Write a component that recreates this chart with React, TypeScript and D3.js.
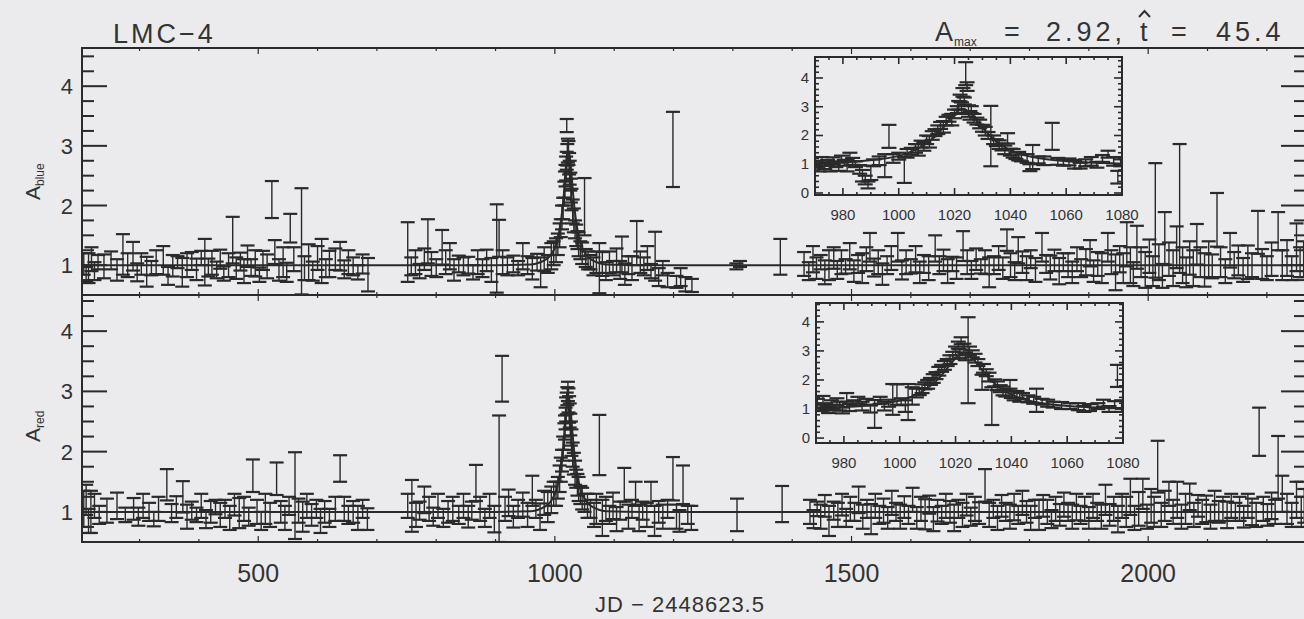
import * as d3 from 'd3';

type Pt = [number, number, number]; // [JD, amplification, error]

// main panel, blue band
const blueMain: Pt[] = [
  [206,1.02,0.18],[210,0.85,0.12],[214,0.95,0.25],[219,1.1,0.2],[224,0.9,0.15],[230,1.05,0.12],[240,0.98,0.2],[252,1.08,0.15],
  [262,0.92,0.18],[272,1.18,0.34],[280,1.0,0.2],[289,1.15,0.24],[296,0.88,0.15],[303,1.02,0.18],[312,0.89,0.25],[320,0.95,0.12],
  [328,1.05,0.2],[340,1.08,0.24],[348,0.82,0.15],[356,0.99,0.18],[364,1.05,0.1],[372,0.88,0.24],[380,1.0,0.2],[388,1.07,0.15],
  [396,0.93,0.18],[404,1.12,0.12],[410,1.05,0.39],[416,0.96,0.15],[422,1.04,0.2],[430,0.92,0.14],[436,1.1,0.16],[442,0.86,0.12],
  [450,1.0,0.2],[457,1.42,0.39],[463,0.95,0.18],[470,1.06,0.15],[476,0.9,0.2],[482,1.15,0.18],[488,0.96,0.14],[495,1.03,0.22],
  [502,0.84,0.12],[508,1.08,0.16],[515,0.98,0.2],[523,2.1,0.31],[528,1.22,0.2],[535,0.92,0.18],[542,1.05,0.25],[548,0.88,0.16],
  [554,1.62,0.24],[560,1.1,0.2],[573,1.4,0.89],[578,0.95,0.2],[585,1.05,0.3],[592,0.9,0.16],[600,1.12,0.2],[607,1.07,0.37],
  [614,0.95,0.15],[620,1.02,0.22],[630,1.1,0.18],[638,1.15,0.24],[645,0.93,0.15],[652,1.05,0.2],[660,0.98,0.15],[668,0.88,0.12],
  [676,1.02,0.16],[685,0.84,0.28],
  [752,1.22,0.5],[758,0.98,0.15],[765,1.05,0.2],[772,0.9,0.12],[780,1.1,0.18],[786,1.4,0.37],[792,1.02,0.2],[800,0.95,0.15],
  [810,1.3,0.29],[816,1.05,0.2],[823,1.15,0.22],[830,0.92,0.18],[838,1.02,0.14],[846,0.98,0.15],[854,1.0,0.14],[862,0.88,0.12],
  [870,1.05,0.2],[878,0.95,0.15],[885,1.08,0.18],[893,0.92,0.2],[902,1.28,0.74],[906,1.45,0.31],[912,1.05,0.2],[920,0.98,0.15],
  [930,1.02,0.14],[938,0.95,0.12],[946,1.15,0.22],[954,1.0,0.15],[962,0.94,0.18],[970,1.05,0.14],[976,0.88,0.25],[982,1.1,0.2],
  [988,1.02,0.15],[994,1.15,0.22],[998,1.2,0.2],
  [1002,1.25,0.2],[1005,1.35,0.18],[1008,1.5,0.2],[1010,1.62,0.15],[1012,1.8,0.2],[1014,1.95,0.18],[1016,2.2,0.2],[1017,2.35,0.22],
  [1018,2.5,0.18],[1019,2.62,0.2],[1020,2.75,0.15],[1021,2.85,0.18],[1022,2.92,0.2],[1020,3.34,0.11],[1023,2.88,0.2],[1024,2.7,0.18],
  [1025,2.55,0.2],[1026,2.4,0.15],[1027,2.25,0.2],[1028,2.1,0.18],[1030,1.9,0.2],[1032,1.75,0.2],[1034,1.6,0.15],[1036,1.5,0.18],
  [1038,1.42,0.15],[1040,1.35,0.2],[1043,1.25,0.15],[1046,1.2,0.18],[1050,1.98,0.48],[1052,1.12,0.15],[1056,1.08,0.15],[1060,1.05,0.12],
  [1065,0.98,0.15],[1070,1.05,0.18],[1075,0.95,0.42],[1080,1.02,0.2],[1086,0.9,0.15],[1092,1.05,0.18],[1098,0.95,0.12],[1104,1.08,0.2],
  [1110,0.92,0.15],[1113,1.18,0.3],[1118,0.85,0.18],[1124,1.0,0.15],[1130,0.95,0.2],[1138,1.37,0.37],[1144,1.05,0.18],[1150,0.98,0.15],
  [1156,1.12,0.2],[1162,0.9,0.12],[1169,1.15,0.41],[1175,0.8,0.15],[1182,0.95,0.12],[1190,0.75,0.12],[1199,2.94,0.63],[1205,0.72,0.1],
  [1212,0.8,0.15],[1220,0.68,0.12],[1231,0.66,0.11],
  [1306,0.98,0.05],[1312,1.02,0.05],[1380,1.14,0.3],
  [1420,1.02,0.2],[1428,0.9,0.15],[1435,1.1,0.22],[1441,0.95,0.18],[1448,1.05,0.12],[1455,0.88,0.2],[1462,1.0,0.25],[1470,1.12,0.18],
  [1476,0.92,0.15],[1483,1.05,0.2],[1490,0.98,0.12],[1497,1.15,0.22],[1504,0.9,0.18],[1511,1.02,0.15],[1518,0.95,0.25],[1525,1.1,0.2],
  [1531,1.3,0.24],[1538,0.96,0.15],[1545,1.05,0.2],[1552,0.85,0.18],[1560,1.0,0.15],[1567,1.12,0.2],[1578,1.3,0.24],[1585,0.92,0.16],
  [1592,1.05,0.2],[1600,0.98,0.12],[1608,1.1,0.22],[1615,0.88,0.18],[1622,1.02,0.15],[1630,0.95,0.2],[1641,1.28,0.22],[1648,1.0,0.15],
  [1655,1.08,0.18],[1662,0.9,0.2],[1670,1.02,0.12],[1677,0.95,0.18],[1688,1.32,0.25],[1695,1.05,0.2],[1702,0.92,0.15],[1710,1.1,0.18],
  [1718,0.98,0.12],[1725,1.05,0.2],[1732,0.88,0.25],[1740,1.0,0.15],[1748,1.12,0.2],[1755,0.95,0.18],[1762,1.42,0.18],[1768,1.0,0.2],
  [1775,0.9,0.15],[1781,1.25,0.22],[1788,1.05,0.18],[1795,0.95,0.2],[1802,1.1,0.15],[1810,0.92,0.2],[1821,1.3,0.24],[1828,1.02,0.15],
  [1835,0.96,0.2],[1842,1.08,0.18],[1850,0.9,0.22],[1857,1.05,0.15],[1865,1.0,0.2],[1872,0.88,0.18],[1880,1.1,0.2],[1887,0.95,0.15],
  [1895,1.05,0.22],[1902,1.2,0.22],[1908,0.9,0.18],[1915,1.02,0.2],[1922,0.95,0.25],[1932,1.3,0.24],[1938,1.05,0.2],[1945,0.88,0.3],
  [1952,1.1,0.22],[1958,0.95,0.25],[1964,1.35,0.37],[1970,1.0,0.3],[1975,0.85,0.2],[1981,1.3,0.36],[1988,1.05,0.25],[1995,0.92,0.3],
  [2002,1.15,0.28],[2008,0.9,0.25],[2012,1.75,0.96],[2018,1.05,0.3],[2024,0.82,0.2],[2028,1.45,0.44],[2035,1.1,0.28],[2042,0.95,0.3],
  [2048,1.3,0.35],[2053,1.95,1.08],[2058,1.0,0.3],[2064,0.88,0.25],[2070,1.12,0.28],[2076,0.95,0.3],[2082,1.35,0.34],[2088,1.05,0.25],
  [2095,0.92,0.28],[2102,1.1,0.3],[2108,0.98,0.2],[2116,1.76,0.45],[2122,1.05,0.25],[2130,0.9,0.2],[2138,1.25,0.29],[2145,1.0,0.22],
  [2152,1.08,0.25],[2160,0.92,0.2],[2168,1.05,0.28],[2175,1.0,0.2],[2185,1.55,0.36],[2192,1.02,0.25],[2200,0.95,0.2],[2208,1.1,0.28],
  [2219,1.57,0.32],[2226,1.0,0.25],[2234,1.12,0.3],[2242,0.95,0.2],[2250,1.3,0.4],[2256,1.05,0.25],[2262,1.1,0.3],
];

// main panel, red band
const redMain: Pt[] = [
  [206,1.05,0.3],[210,1.2,0.25],[214,0.85,0.2],[218,1.0,0.35],[224,1.1,0.2],[232,0.95,0.15],[245,1.02,0.2],[262,1.1,0.22],
  [276,0.95,0.12],[290,1.05,0.18],[298,0.92,0.15],[306,1.1,0.2],[316,1.0,0.15],[324,0.88,0.12],[332,1.05,0.2],[346,1.45,0.26],
  [354,0.98,0.15],[362,1.08,0.18],[373,1.25,0.26],[380,0.92,0.2],[388,1.02,0.15],[396,0.95,0.12],[404,1.1,0.2],[412,0.88,0.15],
  [420,1.0,0.18],[428,1.08,0.12],[436,0.95,0.2],[444,1.05,0.15],[452,0.9,0.2],[460,1.12,0.18],[468,0.98,0.25],[476,1.05,0.2],
  [484,0.92,0.15],[491,1.6,0.27],[498,1.0,0.2],[505,0.85,0.15],[512,1.05,0.25],[520,0.95,0.2],[531,1.55,0.27],[538,1.0,0.18],
  [545,0.9,0.2],[552,1.1,0.15],[562,1.27,0.72],[568,1.02,0.2],[575,0.92,0.25],[582,1.1,0.2],[590,0.95,0.18],[598,1.05,0.15],
  [605,0.85,0.2],[612,1.0,0.18],[620,0.9,0.15],[630,1.05,0.2],[638,1.72,0.22],[645,1.05,0.2],[652,0.95,0.15],[660,1.0,0.18],
  [668,0.9,0.2],[676,1.05,0.15],[684,0.88,0.18],
  [752,1.1,0.2],[759,1.1,0.43],[766,0.95,0.2],[772,1.02,0.15],[780,1.2,0.22],[788,1.05,0.2],[795,0.92,0.15],[803,1.1,0.2],
  [812,0.9,0.15],[820,1.0,0.18],[828,1.05,0.2],[838,0.95,0.15],[846,1.1,0.2],[854,0.92,0.18],[860,1.02,0.15],[867,1.48,0.3],
  [874,1.05,0.2],[882,0.9,0.15],[890,1.1,0.2],[898,0.88,0.22],[906,1.55,1.05],[911,3.21,0.38],[916,1.05,0.2],[922,1.15,0.22],
  [930,0.92,0.18],[938,1.05,0.15],[946,1.12,0.2],[954,0.95,0.2],[962,1.35,0.25],[968,1.05,0.15],[975,0.92,0.22],[982,1.15,0.2],
  [988,1.08,0.25],[994,1.2,0.22],[998,1.3,0.2],
  [1002,1.3,0.2],[1005,1.4,0.18],[1008,1.55,0.22],[1010,1.7,0.2],[1012,1.85,0.18],[1014,2.05,0.2],[1016,2.25,0.22],[1017,2.4,0.2],
  [1018,2.55,0.18],[1019,2.7,0.2],[1020,2.8,0.18],[1021,2.92,0.15],[1022,3.0,0.16],[1023,2.85,0.2],[1024,2.7,0.22],[1025,2.6,0.2],
  [1026,2.45,0.18],[1027,2.3,0.2],[1028,2.15,0.22],[1030,1.95,0.2],[1032,1.8,0.18],[1034,1.65,0.2],[1036,1.55,0.15],[1038,1.45,0.18],
  [1040,1.38,0.2],[1043,1.28,0.15],[1046,1.22,0.18],[1050,1.15,0.15],[1055,1.1,0.2],[1060,1.05,0.15],
  [1066,0.95,0.2],[1070,1.05,0.25],[1075,2.11,0.5],[1080,0.9,0.3],[1086,1.05,0.2],[1092,0.95,0.15],[1098,1.1,0.22],[1104,0.88,0.2],
  [1110,1.02,0.15],[1117,1.45,0.28],[1124,0.92,0.2],[1130,1.05,0.15],[1136,1.3,0.2],[1142,0.9,0.22],[1148,1.02,0.15],[1155,0.95,0.2],
  [1162,1.3,0.2],[1168,0.85,0.25],[1175,1.0,0.18],[1182,0.92,0.2],[1190,1.05,0.15],[1199,1.55,0.36],[1205,0.92,0.2],[1210,0.85,0.18],
  [1216,1.45,0.32],[1224,0.95,0.15],[1230,0.9,0.2],
  [1307,0.95,0.27],[1383,1.13,0.3],
  [1430,1.0,0.2],[1436,0.88,0.15],[1442,1.05,0.12],[1448,0.92,0.2],[1455,1.1,0.18],[1462,0.85,0.25],[1470,1.02,0.15],[1477,0.95,0.2],
  [1484,1.12,0.18],[1491,0.9,0.15],[1498,1.05,0.2],[1505,1.0,0.15],[1512,1.2,0.22],[1519,0.92,0.2],[1526,1.05,0.15],[1533,0.88,0.25],
  [1540,1.1,0.2],[1547,0.95,0.15],[1554,1.02,0.2],[1561,0.9,0.18],[1568,1.15,0.2],[1575,1.0,0.15],[1582,0.92,0.2],[1589,1.08,0.18],
  [1596,0.95,0.15],[1603,1.2,0.2],[1610,0.9,0.18],[1617,1.05,0.2],[1624,0.96,0.25],[1631,1.12,0.15],[1638,0.88,0.2],[1645,1.02,0.18],
  [1652,0.95,0.15],[1659,1.1,0.2],[1666,1.0,0.18],[1673,0.9,0.22],[1680,1.05,0.15],[1687,0.95,0.2],[1694,1.12,0.18],[1701,0.92,0.15],
  [1708,1.05,0.2],[1715,0.98,0.18],[1725,1.44,0.27],[1732,0.95,0.2],[1739,1.05,0.15],[1746,0.9,0.2],[1753,1.1,0.18],[1760,1.0,0.15],
  [1767,0.92,0.2],[1774,1.08,0.22],[1781,0.95,0.15],[1788,1.15,0.2],[1795,1.0,0.18],[1802,0.9,0.2],[1809,1.05,0.15],[1816,0.95,0.25],
  [1823,1.1,0.18],[1830,1.0,0.2],[1837,0.88,0.15],[1844,1.05,0.2],[1851,0.95,0.18],[1858,1.12,0.2],[1865,1.0,0.15],[1872,0.92,0.2],
  [1879,1.08,0.22],[1886,0.95,0.15],[1893,1.05,0.2],[1900,0.9,0.18],[1907,1.1,0.2],[1914,1.0,0.15],[1921,0.92,0.2],[1928,1.2,0.25],
  [1935,0.95,0.18],[1942,1.05,0.2],[1949,0.88,0.22],[1956,1.1,0.2],[1963,1.0,0.25],[1970,1.25,0.3],[1977,0.9,0.2],[1984,1.05,0.28],
  [1991,1.3,0.25],[1998,0.92,0.2],[2005,1.1,0.28],[2010,1.0,0.25],[2016,1.75,0.43],[2022,0.95,0.2],[2028,1.1,0.25],[2035,1.3,0.2],
  [2042,1.0,0.2],[2049,1.2,0.3],[2056,0.92,0.2],[2063,1.05,0.25],[2070,1.25,0.22],[2077,0.95,0.2],[2084,1.1,0.18],[2091,1.0,0.2],
  [2098,1.05,0.22],[2105,0.92,0.2],[2112,1.1,0.25],[2119,1.0,0.18],[2126,1.05,0.2],[2133,0.95,0.22],[2140,1.1,0.2],[2147,1.0,0.15],
  [2154,1.05,0.2],[2161,0.92,0.18],[2168,1.1,0.2],[2175,1.0,0.22],[2182,0.95,0.2],[2187,2.33,0.4],[2194,1.05,0.2],[2201,0.95,0.18],
  [2208,1.1,0.22],[2214,1.0,0.2],[2219,1.74,0.52],[2226,1.3,0.3],[2234,1.05,0.25],[2242,0.95,0.2],[2250,1.2,0.3],[2258,1.0,0.25],
  [2263,1.1,0.28],
];

// inset (JD 970-1080), blue
const blueZoom: Pt[] = [
  [970.5,1.0,0.12],[971.5,0.85,0.1],[972.5,1.1,0.15],[973.5,0.95,0.12],[974.5,1.05,0.1],[975.5,0.9,0.15],[976.5,1.12,0.12],[977.5,1.0,0.1],
  [978.5,0.92,0.15],[979.5,1.18,0.12],[980.5,1.05,0.1],[981.5,0.95,0.2],[982.5,1.25,0.15],[983.5,1.1,0.12],[984.5,1.0,0.1],[986,0.82,0.15],
  [987,0.6,0.2],[988,0.45,0.15],[989,0.28,0.12],[990,0.7,0.25],[991,1.05,0.12],[993,1.12,0.15],[995,0.95,0.4],[996.5,1.97,0.4],
  [998,1.2,0.15],[1000,1.28,0.12],[1002,0.8,0.45],[1003,1.38,0.15],[1004.5,1.45,0.12],[1006,1.55,0.15],[1007,1.5,0.2],[1008,1.7,0.12],
  [1009,1.62,0.15],[1010,1.85,0.15],[1011,1.78,0.2],[1012,2.0,0.15],[1013,2.1,0.12],[1014,2.2,0.15],[1015,2.35,0.12],[1016,2.3,0.2],
  [1017,2.5,0.15],[1018,2.6,0.12],[1019,2.55,0.2],[1020,2.75,0.15],[1021,2.9,0.12],[1021.5,3.05,0.15],[1022,3.3,0.12],[1022.5,2.95,0.2],
  [1023,3.5,0.15],[1023.5,3.2,0.12],[1024,4.15,0.4],[1024.5,3.7,0.15],[1025,2.85,0.2],[1025.5,2.7,0.15],[1026,2.9,0.12],[1027,2.6,0.15],
  [1028,2.5,0.12],[1029,2.4,0.15],[1030,2.25,0.12],[1031,2.15,0.15],[1032,2.0,0.12],[1033,1.98,1.05],[1034,1.85,0.15],[1035,1.75,0.12],
  [1036,1.68,0.15],[1037,1.6,0.12],[1038,1.5,0.15],[1039,1.9,0.18],[1040,1.42,0.12],[1041,1.38,0.15],[1042,1.3,0.12],[1043,1.28,0.15],
  [1044,1.22,0.12],[1046,1.2,0.15],[1047,0.88,0.12],[1048,1.25,0.42],[1050,1.15,0.12],[1052,1.12,0.15],[1055,1.97,0.47],[1057,1.1,0.12],
  [1059,1.05,0.1],[1061,1.08,0.12],[1063,1.0,0.15],[1065,0.95,0.1],[1067,1.05,0.12],[1069,1.1,0.15],[1071,0.98,0.1],[1073,1.2,0.12],
  [1075,1.35,0.12],[1077,1.1,0.15],[1078.5,0.55,0.22],[1079.5,1.05,0.12],
];

// inset (JD 970-1080), red
const redZoom: Pt[] = [
  [970.5,1.2,0.15],[971.5,1.05,0.12],[972.5,1.3,0.15],[973.5,1.1,0.1],[974.5,0.98,0.12],[975.5,1.15,0.15],[976.5,1.05,0.1],[977.5,1.25,0.12],
  [978.5,1.1,0.15],[979.5,0.95,0.1],[981,1.4,0.15],[982,1.05,0.12],[983.5,1.2,0.1],[985,1.3,0.12],[986.5,1.1,0.15],[988,1.25,0.1],
  [989.5,1.0,0.12],[991,0.83,0.48],[993,1.3,0.12],[994.5,1.1,0.15],[996,1.2,0.12],[997.5,1.33,0.53],[999,1.5,0.35],[1000.5,1.25,0.12],
  [1002,1.1,0.2],[1003,1.24,0.62],[1004.5,1.45,0.3],[1006,1.55,0.15],[1007,1.6,0.12],[1008,1.7,0.15],[1009,1.8,0.12],[1010,1.85,0.15],
  [1011,1.95,0.12],[1012,2.05,0.15],[1013,2.15,0.12],[1014,2.3,0.15],[1015,2.4,0.12],[1016,2.5,0.15],[1017,2.6,0.12],[1018,2.7,0.15],
  [1019,2.85,0.12],[1020,3.0,0.15],[1021,3.2,0.12],[1021.5,2.9,0.15],[1022,3.35,0.12],[1023,3.1,0.15],[1023.5,2.8,0.12],[1024.5,2.68,1.48],
  [1025,3.0,0.15],[1026,2.9,0.12],[1027,2.75,0.15],[1028,2.6,0.12],[1029.5,1.92,0.26],[1030,2.4,0.15],[1031,2.25,0.12],[1032,2.1,0.15],
  [1033,1.1,0.65],[1034,1.9,0.12],[1035,1.8,0.15],[1036,1.7,0.12],[1037,1.62,0.15],[1038,1.55,0.12],[1039.5,1.85,0.15],[1040,1.5,0.12],
  [1041,1.45,0.15],[1042,1.5,0.12],[1043,1.4,0.15],[1044,1.45,0.1],[1046,1.35,0.12],[1048,1.3,0.12],[1049,1.3,0.4],[1051,1.25,0.1],
  [1053,1.2,0.12],[1055,1.15,0.1],[1058,1.12,0.12],[1061,1.1,0.1],[1064,1.08,0.12],[1066,1.0,0.1],[1068,1.05,0.12],[1071,1.1,0.1],
  [1073,1.2,0.12],[1075,1.0,0.1],[1077,1.15,0.12],[1078,2.14,0.38],[1079.5,1.1,0.2],
];

// fitted light curve
const fitCurve: [number, number][] = [
  [203,1.0],[900,1.0],[960,1.01],[973,1.04],[993,1.17],[1003,1.38],[1008,1.6],[1013,1.96],[1016,2.28],[1018,2.52],[1020,2.75],
  [1023,2.92],[1026,2.75],[1028,2.52],[1030,2.28],[1033,1.96],[1038,1.6],[1043,1.38],[1053,1.17],[1073,1.04],[1086,1.01],[1150,1.0],[2266,1.0],
];

const mainXTicks = [500, 1000, 1500, 2000];
const mainYTicks = [1, 2, 3, 4];
const zoomXTicks = [980, 1000, 1020, 1040, 1060, 1080];
const zoomYTicks = [0, 1, 2, 3, 4];

const W = 1304;
const H = 619;
const INK = '#2a2a2a';
const BG = '#ebebee';
const FONT = '"Liberation Sans", Arial, sans-serif';

type Lin = d3.ScaleLinear<number, number>;

function ErrorBars({ data, x, y, cap, clip }: { data: Pt[]; x: Lin; y: Lin; cap: number; clip: string }) {
  return (
    <g clipPath={`url(#${clip})`} stroke={INK}>
      {data.map(([t, a, e], i) => {
        const px = x(t);
        const y0 = y(a - e);
        const y1 = y(a + e);
        return (
          <g key={i}>
            <line x1={px} x2={px} y1={y0} y2={y1} strokeWidth={1.4} />
            <line x1={px - cap / 2} x2={px + cap / 2} y1={y0} y2={y0} strokeWidth={2.2} />
            <line x1={px - cap / 2} x2={px + cap / 2} y1={y1} y2={y1} strokeWidth={2.2} />
          </g>
        );
      })}
    </g>
  );
}

function MainPanel({ id, data, y, top, bottom }: { id: string; data: Pt[]; y: Lin; top: number; bottom: number }) {
  const x = d3.scaleLinear().domain([203, 2266]).range([82, 1306]);
  const [left, right] = x.range();
  const line = d3.line<[number, number]>().x(d => x(d[0])).y(d => y(d[1])).curve(d3.curveMonotoneX);
  const yt = d3.range(0.5, 4.61, 0.25);
  const xt = d3.range(300, 2266, 100);
  return (
    <g>
      <defs>
        <clipPath id={id}>
          <rect x={left} y={top} width={right - left} height={bottom - top} />
        </clipPath>
      </defs>
      <path d={line(fitCurve) || ''} fill="none" stroke={INK} strokeWidth={2} clipPath={`url(#${id})`} />
      <ErrorBars data={data} x={x} y={y} cap={14} clip={id} />
      <g stroke={INK} strokeWidth={2}>
        {yt.map(v => {
          const major = Math.abs(v - Math.round(v)) < 1e-6;
          const len = major ? 25 : 12;
          return (
            <g key={v}>
              <line x1={left} x2={left + len} y1={y(v)} y2={y(v)} />
              <line x1={right} x2={right - len} y1={y(v)} y2={y(v)} />
            </g>
          );
        })}
        {xt.map(v => {
          const len = v % 500 === 0 ? 6 : 3;
          return (
            <g key={v}>
              <line x1={x(v)} x2={x(v)} y1={bottom} y2={bottom - len} strokeWidth={1.2} />
              <line x1={x(v)} x2={x(v)} y1={top} y2={top + len} strokeWidth={1.2} />
            </g>
          );
        })}
        <rect x={left} y={top} width={right - left} height={bottom - top} fill="none" />
      </g>
      <g fill="#333" fontFamily={FONT} fontSize={22} textAnchor="end">
        {mainYTicks.map(v => (
          <text key={v} x={73} y={y(v) + 8}>{v}</text>
        ))}
      </g>
    </g>
  );
}

function ZoomPanel({ id, data, x, y }: { id: string; data: Pt[]; x: Lin; y: Lin }) {
  const [left, right] = x.range();
  const [bottom, top] = y.range();
  const line = d3.line<[number, number]>().x(d => x(d[0])).y(d => y(d[1])).curve(d3.curveMonotoneX);
  const yt = d3.range(0, 4.61, 0.2);
  const xt = d3.range(970, 1081, 5);
  return (
    <g>
      <defs>
        <clipPath id={id}>
          <rect x={left} y={top} width={right - left} height={bottom - top} />
        </clipPath>
      </defs>
      <rect x={left} y={top} width={right - left} height={bottom - top} fill={BG} />
      <path d={line(fitCurve.filter(d => d[0] >= 900 && d[0] <= 1150)) || ''} fill="none" stroke={INK} strokeWidth={2} clipPath={`url(#${id})`} />
      <ErrorBars data={data} x={x} y={y} cap={15} clip={id} />
      <g stroke={INK} strokeWidth={1.6}>
        {yt.map(v => {
          const major = Math.abs(v - Math.round(v)) < 1e-6;
          const len = major ? 8 : 4;
          return (
            <g key={v}>
              <line x1={left} x2={left + len} y1={y(v)} y2={y(v)} />
              <line x1={right} x2={right - len} y1={y(v)} y2={y(v)} />
            </g>
          );
        })}
        {xt.map(v => {
          const len = v % 20 === 0 ? 7 : 3;
          return (
            <g key={v}>
              <line x1={x(v)} x2={x(v)} y1={bottom} y2={bottom - len} />
              <line x1={x(v)} x2={x(v)} y1={top} y2={top + len} />
            </g>
          );
        })}
        <rect x={left} y={top} width={right - left} height={bottom - top} fill="none" strokeWidth={2} />
      </g>
      <g fill="#333" fontFamily={FONT} fontSize={15}>
        {zoomYTicks.map(v => (
          <text key={v} x={left - 6} y={y(v) + 5} textAnchor="end">{v}</text>
        ))}
        {zoomXTicks.map(v => (
          <text key={v} x={x(v)} y={bottom + 25} textAnchor="middle">{v}</text>
        ))}
      </g>
    </g>
  );
}

export default function App() {
  const yBlue = d3.scaleLinear().domain([0.5, 4.64]).range([295, 48]);
  const yRed = d3.scaleLinear().domain([0.5, 4.6]).range([542, 295]);
  const xMain = d3.scaleLinear().domain([203, 2266]).range([82, 1306]);
  const xZoomBlue = d3.scaleLinear().domain([970, 1080]).range([815, 1122]);
  const yZoomBlue = d3.scaleLinear().domain([-0.07, 4.73]).range([195, 57]);
  const xZoomRed = d3.scaleLinear().domain([970, 1080]).range([816, 1123]);
  const yZoomRed = d3.scaleLinear().domain([-0.17, 4.65]).range([443, 303]);

  return (
    <svg
      width={W}
      height={H}
      viewBox={`0 0 ${W} ${H}`}
      style={{ position: 'absolute', left: 0, top: 0, background: BG, display: 'block' }}
    >
      <rect width={W} height={H} fill={BG} />
      <MainPanel id="clip-blue" data={blueMain} y={yBlue} top={48} bottom={295} />
      <MainPanel id="clip-red" data={redMain} y={yRed} top={295} bottom={542} />
      <ZoomPanel id="clip-zb" data={blueZoom} x={xZoomBlue} y={yZoomBlue} />
      <ZoomPanel id="clip-zr" data={redZoom} x={xZoomRed} y={yZoomRed} />

      <g fill="#333" fontFamily={FONT}>
        <text x={113} y={43} fontSize={27} letterSpacing={3}>LMC−4</text>
        <text x={935} y={41} fontSize={27}>A</text>
        <text x={954} y={46} fontSize={12}>max</text>
        <text x={1004} y={41} fontSize={27}>=</text>
        <text x={1046} y={41} fontSize={27} letterSpacing={4}>2.92,</text>
        <text x={1140} y={41} fontSize={27}>t</text>
        <text x={1171} y={41} fontSize={27}>=</text>
        <text x={1216} y={41} fontSize={27} letterSpacing={4}>45.4</text>

        <text transform="translate(40,200) rotate(-90)" fontSize={21}>
          A<tspan fontSize={12} dy={4}>blue</tspan>
        </text>
        <text transform="translate(40,442) rotate(-90)" fontSize={21}>
          A<tspan fontSize={12} dy={4}>red</tspan>
        </text>

        {mainXTicks.map(v => (
          <text key={v} x={xMain(v)} y={582} fontSize={25} textAnchor="middle">{v}</text>
        ))}
        <text x={680} y={612} fontSize={22} textAnchor="middle" letterSpacing={1}>JD − 2448623.5</text>
      </g>
      {/* hat over t */}
      <path d="M1139,17 L1144.5,11 L1150,17" fill="none" stroke="#333" strokeWidth={2} />
    </svg>
  );
}
